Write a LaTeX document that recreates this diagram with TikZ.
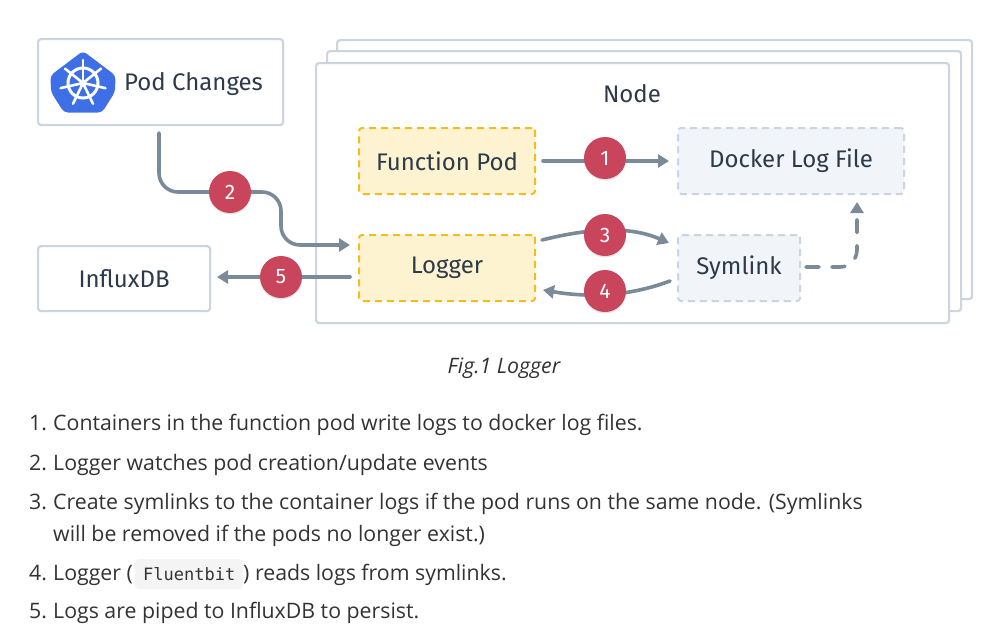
\documentclass[tikz,border=0pt]{standalone}
\usepackage{fontspec}
\setmainfont{Open Sans}
\newfontfamily\diagfont{Fira Sans}
\setmonofont{DejaVu Sans Mono}
\usetikzlibrary{arrows.meta,shadows,calc}
\definecolor{bordergray}{HTML}{CBD5E0}
\definecolor{flowgray}{HTML}{7B8A99}
\definecolor{badgered}{HTML}{C9455C}
\definecolor{textdark}{HTML}{2D3A4A}
\definecolor{bodytext}{HTML}{333333}
\definecolor{yellowfill}{HTML}{FDF3D0}
\definecolor{yellowline}{HTML}{F2BE1D}
\definecolor{grayfill}{HTML}{F1F4F8}
\definecolor{k8sblue}{HTML}{3F6FE6}
\definecolor{chipfill}{HTML}{F4F4F4}
\tikzset{
  x=1pt,y=-1pt,
  plainbox/.style={draw=bordergray,line width=2.2pt,fill=white,rounded corners=3pt,anchor=north west,inner sep=0pt,text=textdark,font=\diagfont\fontsize{24}{28}\selectfont},
  podbox/.style={draw=yellowline,fill=yellowfill,line width=2pt,dash pattern=on 7pt off 5pt,rounded corners=3pt,anchor=north west,inner sep=0pt,text=textdark,font=\diagfont\fontsize{24}{28}\selectfont},
  filebox/.style={draw=bordergray,fill=grayfill,line width=2pt,dash pattern=on 7pt off 5pt,rounded corners=3pt,anchor=north west,inner sep=0pt,text=textdark,font=\diagfont\fontsize{24}{28}\selectfont},
  flow/.style={draw=flowgray,line width=3.6pt,line cap=round,-{Triangle[length=11pt,width=13pt]}},
  badge/.style={circle,fill=badgered,minimum size=42pt,inner sep=0pt,text=white,font=\diagfont\fontsize{21}{24}\selectfont,drop shadow={opacity=.22,shadow xshift=0pt,shadow yshift=-1.5pt}},
  itemtext/.style={anchor=base west,inner sep=0pt,text=bodytext,font=\fontsize{21.3}{26}\selectfont},
  wheel/.style={white,line width=2.6pt,line cap=round},
}
\begin{document}
\begin{tikzpicture}
\useasboundingbox (0,0) rectangle (986,640);
\fill[white] (0,0) rectangle (986,640);
% stacked node frames
\node[plainbox,minimum width=635pt,minimum height=259pt] (stackc) at (336,39) {};
\node[plainbox,minimum width=634pt,minimum height=260pt] (stackb) at (326,50) {};
\node[plainbox,minimum width=633pt,minimum height=260pt] (stacka) at (315,62) {};
\node[text=textdark,font=\diagfont\fontsize{24}{28}\selectfont] (nodetitle) at (632,94) {Node};
% boxes
\node[plainbox,minimum width=245pt,minimum height=86pt] (pod) at (37,38) {};
\node[plainbox,minimum width=172pt,minimum height=65pt] (influx) at (37,245) {InfluxDB};
\node[podbox,minimum width=176pt,minimum height=66pt] (fn) at (358,127) {Function Pod};
\node[podbox,minimum width=176pt,minimum height=66pt] (logger) at (358,234) {Logger};
\node[filebox,minimum width=226pt,minimum height=66pt] (docker) at (677,127) {Docker Log File};
\node[filebox,minimum width=122pt,minimum height=66pt] (symlink) at (677,234) {Symlink};
\node[anchor=base west,inner sep=0pt,text=textdark,font=\diagfont\fontsize{24}{28}\selectfont] (podlabel) at (124,90) {Pod Changes};
% kubernetes logo
\fill[k8sblue,rounded corners=4pt]
  (83,51) -- ($(83,83)+(32.5,-7.5)$) -- ($(83,83)+(32,9)$) -- ($(83,83)+(19,29.5)$)
  -- ($(83,83)+(-19,29.5)$) -- ($(83,83)+(-32,9)$) -- ($(83,83)+(-32.5,-7.5)$) -- cycle;
\draw[white,line width=3pt] (83,83) circle (15pt);
\foreach \a in {-90,-38.6,12.9,64.3,115.7,167.1,218.6}{
  \draw[wheel] ($(83,83)+({3*cos(\a)},{3*sin(\a)})$) -- ($(83,83)+({23*cos(\a)},{23*sin(\a)})$);
}
\fill[white] (83,83) circle (3.5pt);
% connectors
\coordinate (podout) at (159,133);
\coordinate (loggerin) at (350,245);
\coordinate (loggerout) at (350,277);
\coordinate (influxin) at (217,277);
\coordinate (turna) at (159,192);
\coordinate (turnb) at (281,192);
\coordinate (turnc) at (281,245);
\draw[flow,rounded corners=19pt] (podout) -- (turna) -- (turnb) -- (turnc) -- (loggerin);
\draw[flow] (loggerout) -- (influxin);
\draw[flow,shorten <=7pt,shorten >=8pt] (fn.east) -- (docker.west);
\coordinate (threeout) at (542,240);
\coordinate (threein) at (669,243);
\coordinate (fourout) at (670,281);
\coordinate (fourin) at (543,290);
\draw[flow] (threeout) .. controls (590,228) and (630,226) .. (threein);
\draw[flow] (fourout) .. controls (630,296) and (590,298) .. (fourin);
\coordinate (dashout) at (806,267);
\coordinate (dashturn) at (857,267);
\coordinate (dashin) at (857,202);
\draw[flow,dash pattern=on 13pt off 13pt,rounded corners=17pt] (dashout) -- (dashturn) -- (dashin);
% badges
\node[badge] (b1) at (605,158) {1};
\node[badge] (b2) at (230,192) {2};
\node[badge] (b3) at (605,235) {3};
\node[badge] (b4) at (605,291) {4};
\node[badge] (b5) at (281,277) {5};
% caption
\node[inner sep=0pt,text=bodytext,font=\itshape\fontsize{21.3}{26}\selectfont] (caption) at (504,368) {Fig.1 Logger};
% list
\node[itemtext] (n1) at (29,430) {1.};
\node[itemtext] (t1) at (53,430) {Containers in the function pod write logs to docker log files.};
\node[itemtext] (n2) at (29,470) {2.};
\node[itemtext] (t2) at (53,470) {Logger watches pod creation/update events};
\node[itemtext] (n3) at (29,509) {3.};
\node[itemtext] (t3) at (53,509) {Create symlinks to the container logs if the pod runs on the same node. (Symlinks};
\node[itemtext] (t3b) at (53,541) {will be removed if the pods no longer exist.)};
\node[itemtext] (n4) at (29,580) {4.};
\node[itemtext] (t4) at (53,580) {Logger (};
\node[fill=chipfill,rounded corners=4pt,anchor=north west,inner sep=0pt,minimum width=108pt,minimum height=30pt,text=bodytext,font=\ttfamily\fontsize{17}{20}\selectfont] (chip) at (135,559) {Fluentbit};
\node[itemtext] (t4b) at (243,580) {) reads logs from symlinks.};
\node[itemtext] (n5) at (29,618) {5.};
\node[itemtext] (t5) at (53,618) {Logs are piped to InfluxDB to persist.};
\end{tikzpicture}
\end{document}
